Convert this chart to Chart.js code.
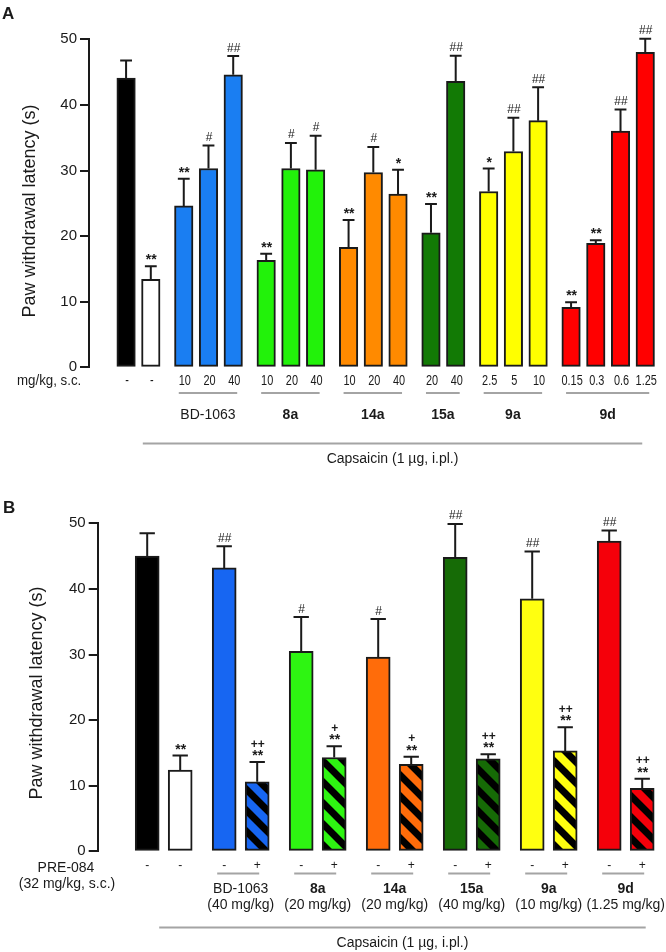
<!DOCTYPE html>
<html lang="en">
<head>
<meta charset="UTF-8">
<title>Paw withdrawal latency</title>
<script src="https://cdn.jsdelivr.net/npm/chart.js"></script>
<style>
  body { margin: 0; background: #fff; }
  canvas { position: absolute; left: 0; }
</style>
</head>
<body>
<canvas id="chartA" width="666" height="480" style="top:0"></canvas>
<canvas id="chartB" width="666" height="472" style="top:480px"></canvas>
<script>
// ---------- panel A data ----------
const groupNamesA = ['', 'BD-1063', '8a', '14a', '15a', '9a', '9d'];
const groupSizesA = [2, 3, 3, 3, 2, 3, 4];
const doseLabelsA = ['-', '-', '10', '20', '40', '10', '20', '40', '10', '20', '40',
                     '20', '40', '2.5', '5', '10', '0.15', '0.3', '0.6', '1.25'];
const meansA = [44.1, 13.4, 24.6, 30.3, 44.6, 16.3, 30.3, 30.1, 18.3, 29.7, 26.4,
                20.5, 43.6, 26.8, 32.9, 37.6, 9.15, 18.9, 36.0, 48.0];
const semA = [2.65, 2.0, 4.15, 3.5, 2.85, 1.0, 3.9, 5.2, 4.15, 3.9, 3.7,
              4.4, 3.9, 3.5, 5.15, 5.1, 0.75, 0.45, 3.3, 2.1];
const marksA = ['', '**', '**', '#', '##', '**', '#', '#', '**', '#', '*',
                '**', '##', '*', '##', '##', '**', '**', '##', '##'];
const colorsA = ['#000000', '#ffffff', '#1a7ef2', '#1a7ef2', '#1a7ef2', '#22f20a', '#22f20a', '#22f20a',
                 '#ff8a00', '#ff8a00', '#ff8a00', '#127a05', '#127a05', '#ffff00', '#ffff00', '#ffff00',
                 '#ff0000', '#ff0000', '#ff0000', '#ff0000'];

// ---------- panel B data ----------
const groupNamesB = ['', 'BD-1063', '8a', '14a', '15a', '9a', '9d'];
const groupDosesB = ['', '(40 mg/kg)', '(20 mg/kg)', '(20 mg/kg)', '(40 mg/kg)', '(10 mg/kg)', '(1.25 mg/kg)'];
const groupSizesB = [2, 2, 2, 2, 2, 2, 2];
const preLabelsB = ['-', '-', '-', '+', '-', '+', '-', '+', '-', '+', '-', '+', '-', '+'];
const meansB = [45.0, 12.4, 43.2, 10.6, 30.5, 14.3, 29.6, 13.25, 44.8, 14.1, 38.5, 15.3, 47.3, 9.6];
const semB = [3.5, 2.2, 3.3, 3.0, 5.2, 1.7, 5.8, 1.15, 5.1, 0.7, 7.2, 3.6, 1.6, 1.45];
const marksB = ['', '**', '##', '++\n**', '#', '+\n**', '#', '+\n**', '##', '++\n**', '##', '++\n**', '##', '++\n**'];
const colorsB = ['#000000', '#ffffff', '#1766f2', '#1766f2', '#2ef512', '#2ef512', '#ff6c0a', '#ff6c0a',
                 '#166b06', '#166b06', '#ffff10', '#ffff10', '#f5000a', '#f5000a'];

const FONT = "'Liberation Sans', Arial, Helvetica, sans-serif";
const INK = '#1a1a1a';
const RULE = '#a4a4a4';

// bars sit on a fine category grid: 3 slots apart inside a group, 4 between groups
function buildSlots(sizes, lead, trail) {
  const pos = [];
  let s = lead, first = true;
  sizes.forEach(n => {
    for (let k = 0; k < n; k++) {
      if (!first) s += (k === 0 ? 4 : 3);
      first = false;
      pos.push(s);
    }
  });
  return { pos, count: s + 1 + trail };
}

function spread(pos, count, values) {
  const out = new Array(count).fill(null);
  pos.forEach((p, i) => { out[p] = values[i]; });
  return out;
}

function hatch(color) {
  const n = 21;
  const c = document.createElement('canvas');
  c.width = c.height = n;
  const g = c.getContext('2d');
  g.fillStyle = color;
  g.fillRect(0, 0, n, n);
  g.strokeStyle = '#000';
  g.lineWidth = 7;
  g.beginPath();
  for (let k = -1; k <= 1; k++) {
    g.moveTo(-5, -5 + k * n);
    g.lineTo(n + 5, n + 5 + k * n);
  }
  g.stroke();
  return g.createPattern(c, 'repeat');
}

function markFont(line) {
  if (line.includes('*')) return 'bold 14px ' + FONT;
  if (line.includes('+')) return 'bold 12px ' + FONT;
  return '12px ' + FONT;
}

// centre a glyph run vertically on y, whatever its ink box
function centerText(ctx, text, x, y) {
  const m = ctx.measureText(text);
  const off = (m.actualBoundingBoxAscent - m.actualBoundingBoxDescent) / 2;
  ctx.fillText(text, x, y + off);
}

// condensed text, as in the original figure's dose row
function narrowText(ctx, text, x, y, squeeze) {
  ctx.save();
  ctx.translate(x, y);
  ctx.scale(squeeze, 1);
  ctx.fillText(text, 0, 0);
  ctx.restore();
}

function errorBars(pos, means, sem, marks) {
  return {
    id: 'errorBars',
    afterDatasetsDraw(chart) {
      const { ctx } = chart;
      const y = chart.scales.y;
      const meta = chart.getDatasetMeta(0);
      ctx.save();
      ctx.strokeStyle = INK;
      ctx.fillStyle = INK;
      ctx.lineWidth = 2;
      ctx.textAlign = 'center';
      ctx.textBaseline = 'alphabetic';
      pos.forEach((p, i) => {
        const bar = meta.data[p];
        const top = y.getPixelForValue(means[i] + sem[i]);
        const half = bar.width * 0.32;
        ctx.beginPath();
        ctx.moveTo(bar.x, bar.y);
        ctx.lineTo(bar.x, top);
        ctx.moveTo(bar.x - half, top);
        ctx.lineTo(bar.x + half, top);
        ctx.stroke();
        const lines = marks[i] ? marks[i].split('\n').reverse() : [];
        lines.forEach((t, j) => {
          ctx.font = markFont(t);
          centerText(ctx, t, bar.x + 0.5, top - 9 - j * 10);
        });
      });
      ctx.restore();
    }
  };
}

function hline(ctx, x0, x1, y, color, w) {
  ctx.save();
  ctx.strokeStyle = color;
  ctx.lineWidth = w;
  ctx.beginPath();
  ctx.moveTo(x0, y);
  ctx.lineTo(x1, y);
  ctx.stroke();
  ctx.restore();
}

function yTitle(ctx, x, y) {
  ctx.save();
  ctx.translate(x, y);
  ctx.rotate(-Math.PI / 2);
  ctx.textAlign = 'center';
  ctx.textBaseline = 'middle';
  ctx.font = '18px ' + FONT;
  ctx.fillText('Paw withdrawal latency (s)', 0, 0);
  ctx.restore();
}

function panelOptions(axisWidth, padding) {
  return {
    responsive: false,
    animation: false,
    devicePixelRatio: 1,
    layout: { padding },
    plugins: { legend: { display: false }, tooltip: { enabled: false } },
    scales: {
      x: { display: false, offset: true },
      y: {
        min: 0, max: 50,
        afterFit: s => { s.width = axisWidth; },
        ticks: { stepSize: 10, color: INK, padding: 3, font: { family: FONT, size: 15 } },
        grid: { drawOnChartArea: false, drawTicks: true, tickLength: 9, color: INK, lineWidth: 2 },
        border: { color: INK, width: 2 }
      }
    }
  };
}

// ---------- panel A ----------
const slotsA = buildSlots(groupSizesA, 4, 1);

const labelsPluginA = {
  id: 'labelsA',
  afterDraw(chart) {
    const { ctx } = chart;
    const x = chart.scales.x;
    const px = i => x.getPixelForValue(slotsA.pos[i]);
    ctx.save();
    ctx.fillStyle = INK;
    ctx.textBaseline = 'alphabetic';
    ctx.textAlign = 'left';
    ctx.font = 'bold 17px ' + FONT;
    ctx.fillText('A', 2, 18.5);
    yTitle(ctx, 30, 211);

    ctx.textBaseline = 'middle';
    ctx.font = '14px ' + FONT;
    narrowText(ctx, 'mg/kg, s.c.', 17, 381, 0.95);
    ctx.textAlign = 'center';
    ctx.font = '14px ' + FONT;
    doseLabelsA.forEach((t, i) => narrowText(ctx, t, px(i) + 1, 381, 0.78));

    let idx = 0;
    groupSizesA.forEach((n, g) => {
      const a = px(idx) - 5, b = px(idx + n - 1) + 4;
      idx += n;
      if (!groupNamesA[g]) return;
      hline(ctx, a, b, 393, RULE, 2);
      ctx.font = (g === 1 ? '' : 'bold ') + '14px ' + FONT;
      ctx.fillText(groupNamesA[g], (a + b) / 2, 415);
    });

    const c0 = px(1) - 8, c1 = px(doseLabelsA.length - 1) - 3;
    hline(ctx, c0, c1, 443.5, RULE, 2);
    ctx.font = '14px ' + FONT;
    ctx.fillText('Capsaicin (1 \u00b5g, i.pl.)', (c0 + c1) / 2, 459);
    ctx.restore();
  }
};

new Chart(document.getElementById('chartA'), {
  type: 'bar',
  data: {
    labels: new Array(slotsA.count).fill(''),
    datasets: [{
      data: spread(slotsA.pos, slotsA.count, meansA),
      backgroundColor: spread(slotsA.pos, slotsA.count, colorsA),
      borderColor: INK,
      borderWidth: 2,
      borderSkipped: false,
      barThickness: 18.5
    }]
  },
  options: panelOptions(89, { top: 39.3, right: 8.4, bottom: 112.7, left: 0 }),
  plugins: [errorBars(slotsA.pos, meansA, semA, marksA), labelsPluginA]
});

// ---------- panel B ----------
const slotsB = buildSlots(groupSizesB, 4, 1);
const fillsB = colorsB.map((c, i) => preLabelsB[i] === '+' ? hatch(c) : c);

const labelsPluginB = {
  id: 'labelsB',
  afterDraw(chart) {
    const { ctx } = chart;
    const x = chart.scales.x;
    const px = i => x.getPixelForValue(slotsB.pos[i]);
    ctx.save();
    ctx.fillStyle = INK;
    ctx.textBaseline = 'alphabetic';
    ctx.textAlign = 'left';
    ctx.font = 'bold 17px ' + FONT;
    ctx.fillText('B', 3, 33);
    yTitle(ctx, 37, 213);

    ctx.textBaseline = 'middle';
    ctx.textAlign = 'center';
    ctx.font = '14px ' + FONT;
    ctx.fillText('PRE-084', 66, 388);
    ctx.fillText('(32 mg/kg, s.c.)', 67, 404);
    ctx.font = '12px ' + FONT;
    preLabelsB.forEach((t, i) => ctx.fillText(t, px(i), 386));

    let idx = 0;
    groupSizesB.forEach((n, g) => {
      const a = px(idx) - 7, b = px(idx + n - 1) + 2;
      idx += n;
      if (!groupNamesB[g]) return;
      hline(ctx, a, b, 393.5, RULE, 2);
      const mid = (px(idx - 2) + px(idx - 1)) / 2;
      ctx.font = (g === 1 ? '' : 'bold ') + '14px ' + FONT;
      ctx.fillText(groupNamesB[g], mid, 409);
      ctx.font = '14px ' + FONT;
      ctx.fillText(groupDosesB[g], mid, 425);
    });

    const c0 = px(1) - 21, c1 = px(preLabelsB.length - 1) + 3.5;
    hline(ctx, c0, c1, 447.5, RULE, 2);
    ctx.font = '14px ' + FONT;
    ctx.fillText('Capsaicin (1 \u00b5g, i.pl.)', (c0 + c1) / 2, 463);
    ctx.restore();
  }
};

new Chart(document.getElementById('chartB'), {
  type: 'bar',
  data: {
    labels: new Array(slotsB.count).fill(''),
    datasets: [{
      data: spread(slotsB.pos, slotsB.count, meansB),
      backgroundColor: spread(slotsB.pos, slotsB.count, fillsB),
      borderColor: INK,
      borderWidth: 2,
      borderSkipped: false,
      barThickness: 24
    }]
  },
  options: panelOptions(97.7, { top: 43.3, right: 7.3, bottom: 100.7, left: 0 }),
  plugins: [errorBars(slotsB.pos, meansB, semB, marksB), labelsPluginB]
});
</script>
</body>
</html>
